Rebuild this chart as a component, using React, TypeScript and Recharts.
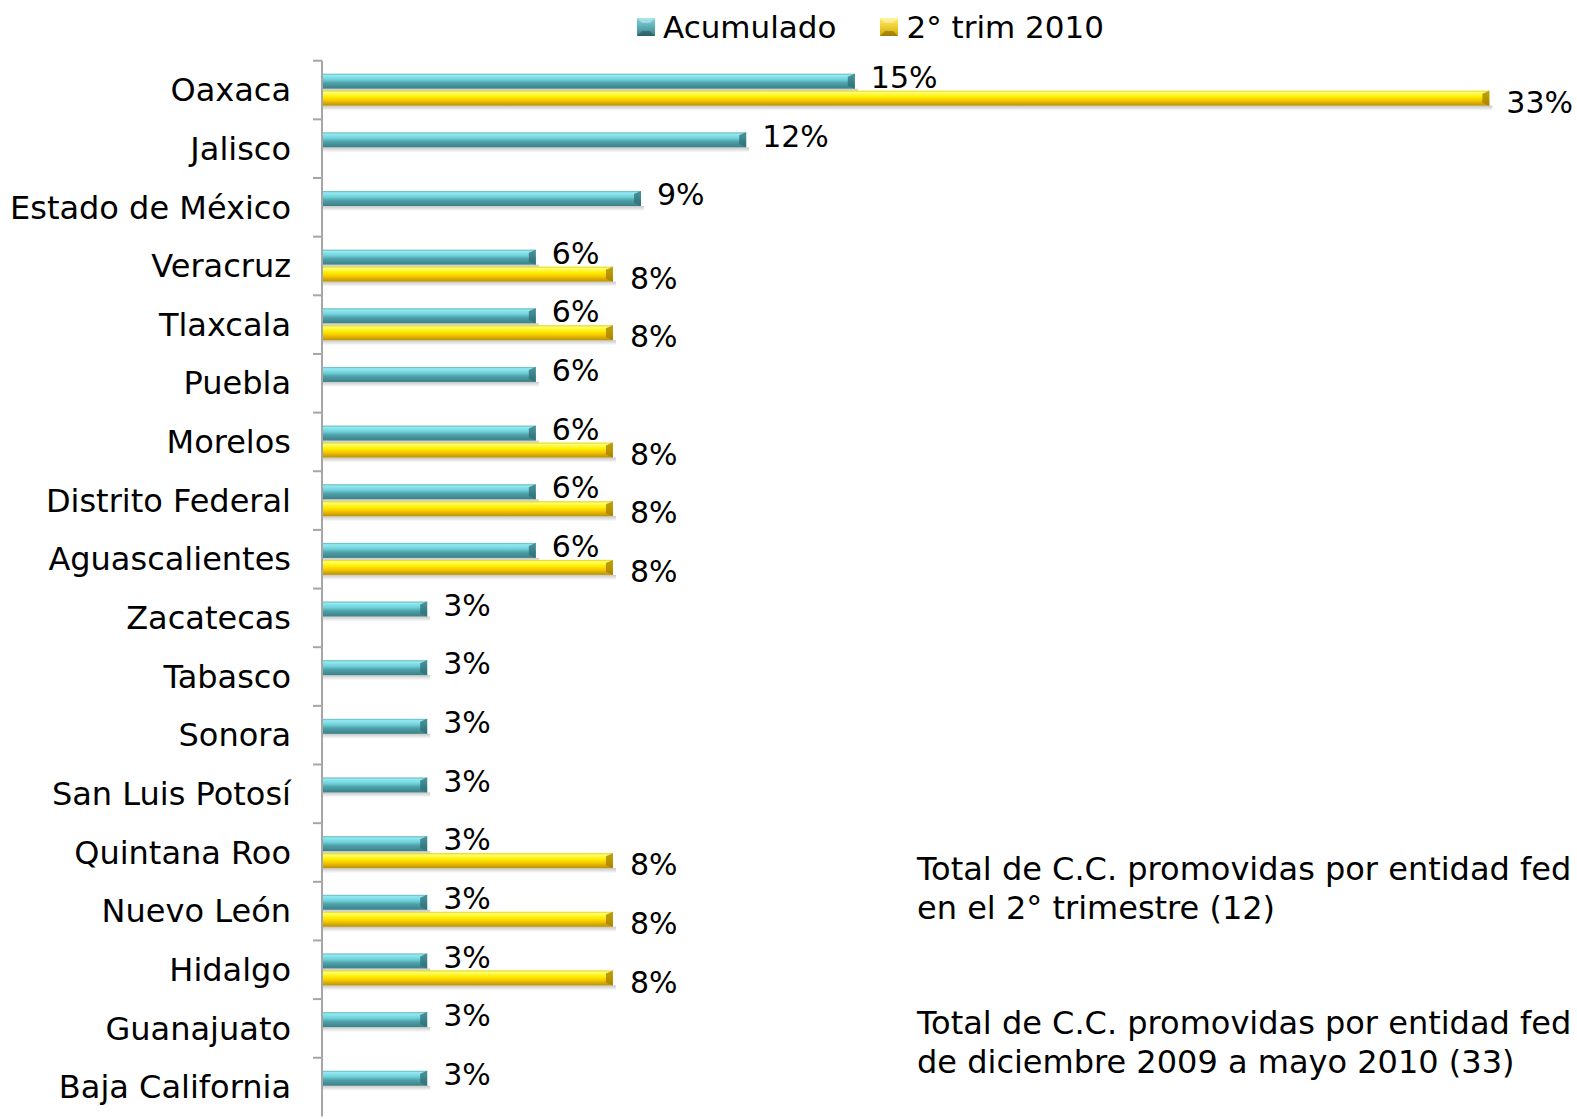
import React from 'react';
import { BarChart, Bar, XAxis, YAxis, LabelList, Legend } from 'recharts';

const categories = [
  'Oaxaca', 'Jalisco', 'Estado de México', 'Veracruz', 'Tlaxcala', 'Puebla',
  'Morelos', 'Distrito Federal', 'Aguascalientes', 'Zacatecas', 'Tabasco',
  'Sonora', 'San Luis Potosí', 'Quintana Roo', 'Nuevo León', 'Hidalgo',
  'Guanajuato', 'Baja California',
];
const acumulado = [15.2, 12.1, 9.1, 6.1, 6.1, 6.1, 6.1, 6.1, 6.1, 3.0, 3.0, 3.0, 3.0, 3.0, 3.0, 3.0, 3.0, 3.0];
const trim2 = [33.3, null, null, 8.3, 8.3, null, 8.3, 8.3, 8.3, null, null, null, null, 8.3, 8.3, 8.3, null, null];
const seriesNames = ['Acumulado', '2° trim 2010'];
// the reference cuts the first line of each note at the right edge
const notes = [
  ['Total de C.C. promovidas por entidad fed', 'en el 2° trimestre (12)'],
  ['Total de C.C. promovidas por entidad fed', 'de diciembre 2009 a mayo 2010 (33)'],
];

const data = categories.map((name, i) => ({ name, acumulado: acumulado[i], trim2: trim2[i] }));

const FONT = '"DejaVu Sans", Verdana, sans-serif';
const W = 1577;
const H = 1119;
const TOP = 60.7;
const BOTTOM = 2.6;
const AXIS_X = 322;
const BAND = (H - TOP - BOTTOM) / categories.length;

const fmt = (v: any) => (v == null ? '' : `${Math.round(v)}%`);

function Bar3D(props: any) {
  const { x, y, width, height, grad, cap } = props;
  if (!width || width <= 0) return null;
  return (
    <g>
      <rect x={x} y={y + height} width={width + 3} height={5} fill="url(#shadowGrad)" />
      <rect x={x} y={y} width={width} height={height} fill={`url(#${grad})`} />
      <polygon
        points={`${x + width - 7},${y + 3} ${x + width},${y} ${x + width},${y + height} ${x + width - 7},${y + height - 3}`}
        fill={cap}
        opacity={0.75}
      />
    </g>
  );
}

function CategoryTick(props: any) {
  const { x, y, payload } = props;
  return (
    <g>
      <line x1={AXIS_X - 9} x2={AXIS_X} y1={y - BAND / 2} y2={y - BAND / 2} stroke="#a6a6a6" strokeWidth={2} />
      <text x={x} y={y} dy="0.35em" textAnchor="end" fontFamily={FONT} fontSize={32} fill="#000">
        {payload.value}
      </text>
    </g>
  );
}

function LegendIcon({ grad }: { grad: string }) {
  return (
    <svg width={18} height={18} style={{ marginRight: 8 }}>
      <defs>
        <linearGradient id={`${grad}L`} x1="0" y1="0" x2="0" y2="1">
          {grad === 'teal' ? (
            <>
              <stop offset="0%" stopColor="#7fd8e0" />
              <stop offset="100%" stopColor="#3b8088" />
            </>
          ) : (
            <>
              <stop offset="0%" stopColor="#fff066" />
              <stop offset="100%" stopColor="#d8a800" />
            </>
          )}
        </linearGradient>
      </defs>
      <rect x={0} y={0} width={18} height={18} fill={`url(#${grad}L)`} />
      <polygon points="0,0 18,0 13,5 5,5" fill="#fff" opacity={0.35} />
      <polygon points="0,18 18,18 13,13 5,13" fill="#000" opacity={0.25} />
    </svg>
  );
}

function LegendContent() {
  return (
    <div style={{ display: 'flex', alignItems: 'center', fontFamily: FONT, fontSize: 31, color: '#000', height: 40 }}>
      <LegendIcon grad="teal" />
      <span style={{ marginRight: 44 }}>{seriesNames[0]}</span>
      <LegendIcon grad="yellow" />
      <span>{seriesNames[1]}</span>
    </div>
  );
}

export default function App() {
  return (
    <div style={{ position: 'absolute', left: 0, top: 0, width: W, height: H, overflow: 'hidden', background: '#fff' }}>
      <BarChart
        width={W}
        height={H}
        data={data}
        layout="vertical"
        margin={{ top: TOP - 40, right: 0, bottom: BOTTOM, left: 0 }}
        barSize={15}
        barGap={2}
      >
        <defs>
          <linearGradient id="teal" x1="0" y1="0" x2="0" y2="1">
            <stop offset="0%" stopColor="#5fb3bb" />
            <stop offset="12%" stopColor="#93eaf2" />
            <stop offset="40%" stopColor="#6fd0d9" />
            <stop offset="62%" stopColor="#4fa1a9" />
            <stop offset="100%" stopColor="#3b7f86" />
          </linearGradient>
          <linearGradient id="yellow" x1="0" y1="0" x2="0" y2="1">
            <stop offset="0%" stopColor="#e6d000" />
            <stop offset="12%" stopColor="#ffff70" />
            <stop offset="40%" stopColor="#ffee00" />
            <stop offset="65%" stopColor="#f5c800" />
            <stop offset="100%" stopColor="#b8900a" />
          </linearGradient>
          <linearGradient id="shadowGrad" x1="0" y1="0" x2="0" y2="1">
            <stop offset="0%" stopColor="#000" stopOpacity={0.22} />
            <stop offset="100%" stopColor="#000" stopOpacity={0} />
          </linearGradient>
        </defs>
        <Legend
          verticalAlign="top"
          content={<LegendContent />}
          wrapperStyle={{ top: 7, left: 637, width: 'auto', height: 40 }}
        />
        <XAxis type="number" domain={[0, 35.8]} hide />
        <YAxis
          type="category"
          dataKey="name"
          width={AXIS_X}
          axisLine={{ stroke: '#a6a6a6', strokeWidth: 2 }}
          tickLine={false}
          tickSize={0}
          tickMargin={31}
          interval={0}
          tick={<CategoryTick />}
        />
        <Bar
          dataKey="acumulado"
          name={seriesNames[0]}
          isAnimationActive={false}
          shape={(p: any) => <Bar3D {...p} grad="teal" cap="#2f6f76" />}
        >
          <LabelList
            dataKey="acumulado"
            position="right"
            offset={16}
            formatter={fmt}
            dy={-4}
            style={{ fontFamily: FONT, fontSize: 30, fill: '#000' }}
          />
        </Bar>
        <Bar
          dataKey="trim2"
          name={seriesNames[1]}
          isAnimationActive={false}
          shape={(p: any) => <Bar3D {...p} grad="yellow" cap="#a07c00" />}
        >
          <LabelList
            dataKey="trim2"
            position="right"
            offset={17}
            formatter={fmt}
            dy={4}
            style={{ fontFamily: FONT, fontSize: 30, fill: '#000' }}
          />
        </Bar>
      </BarChart>
      {notes.map((lines, i) => (
        <div
          key={i}
          style={{
            position: 'absolute',
            left: 917,
            top: i === 0 ? 850 : 1004,
            fontFamily: FONT,
            fontSize: 32,
            lineHeight: '39px',
            whiteSpace: 'nowrap',
            color: '#000',
          }}
        >
          {lines.map((l, j) => (
            <div key={j}>{l}</div>
          ))}
        </div>
      ))}
    </div>
  );
}
